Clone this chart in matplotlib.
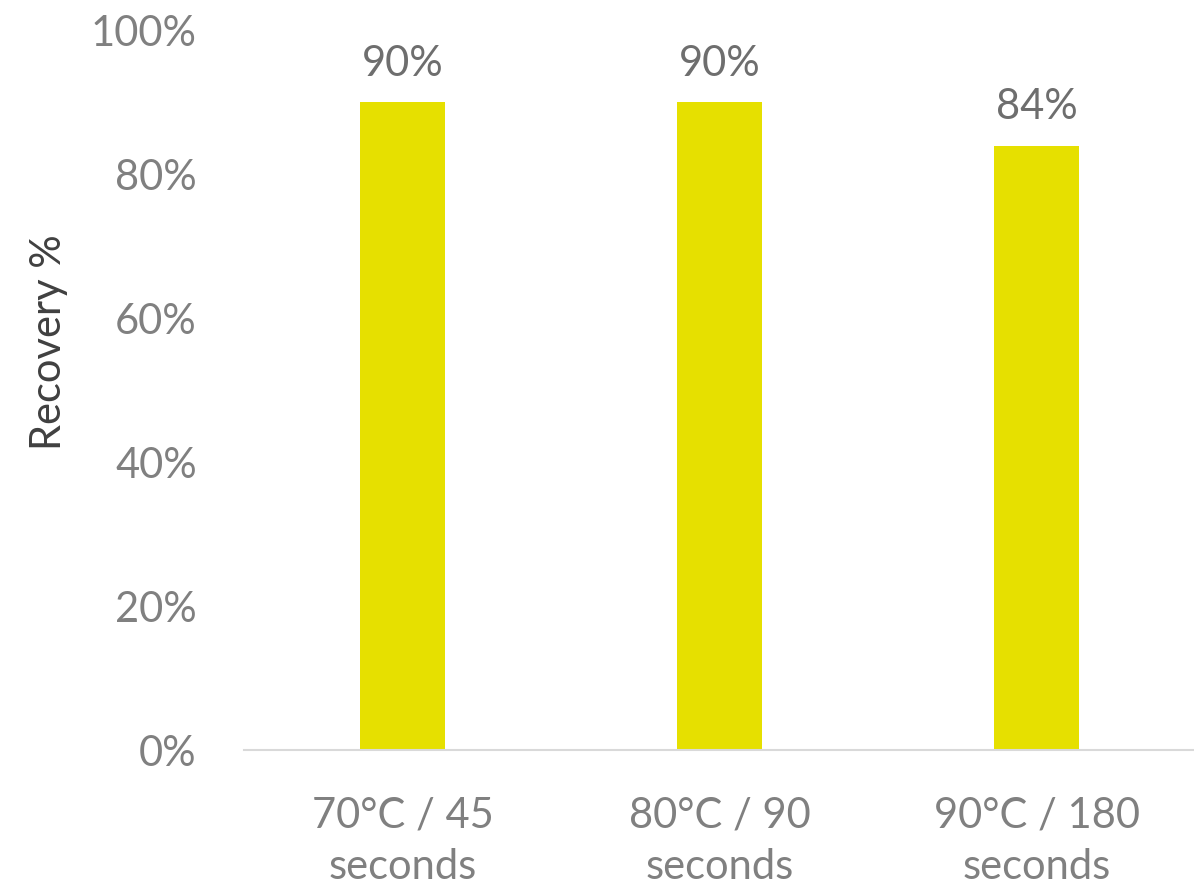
import matplotlib.pyplot as plt
from matplotlib.ticker import PercentFormatter

categories = ['70°C / 45\nseconds', '80°C / 90\nseconds', '90°C / 180\nseconds']
recovery = [90, 90, 84]
value_labels = ['90%', '90%', '84%']

plt.rcParams['font.family'] = ['Lato', 'DejaVu Sans']

fig = plt.figure(figsize=(11.94, 8.92), dpi=100)
ax = fig.add_axes([0.2044, 0.159, 0.7966, 0.807])

x = range(len(categories))
bars = ax.bar(x, recovery, width=0.27, color='#e6e000')

for b, lab in zip(bars, value_labels):
    ax.annotate(lab, (b.get_x() + b.get_width() / 2, b.get_height()),
                xytext=(0, 14), textcoords='offset points',
                ha='center', va='bottom', fontsize=30, color='#6e6e6e')

ax.set_xlim(-0.5, 2.5)
ax.set_ylim(0, 100)
ax.set_yticks(range(0, 101, 20))
ax.yaxis.set_major_formatter(PercentFormatter(decimals=0))
ax.set_xticks(list(x))
ax.set_xticklabels(categories, linespacing=1.45)

for s in ['top', 'right', 'left']:
    ax.spines[s].set_visible(False)
ax.spines['bottom'].set_color('#d9d9d9')
ax.spines['bottom'].set_linewidth(1.5)

ax.tick_params(axis='both', length=0, labelsize=30, labelcolor='#808080')
ax.tick_params(axis='y', pad=34)
ax.tick_params(axis='x', pad=33)

ax.set_ylabel('Recovery %', fontsize=30, color='#404040')
ax.yaxis.set_label_coords(-0.185, 0.567)

fig.savefig('out.png', dpi=100)
